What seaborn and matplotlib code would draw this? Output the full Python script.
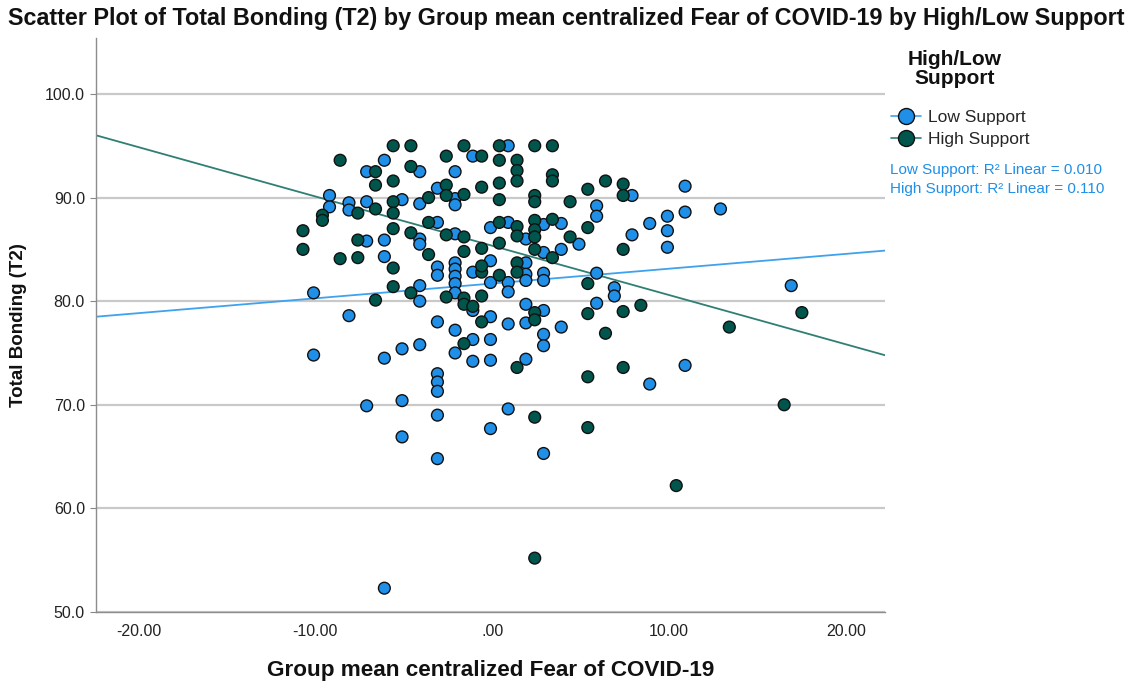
import numpy as np
import pandas as pd
import matplotlib
matplotlib.use("Agg")
import matplotlib.pyplot as plt
from matplotlib.lines import Line2D
from matplotlib.ticker import FuncFormatter
import seaborn as sns

# ---------------- data ----------------
low_x = [-6.1, -7.1, -4.1, -1.1, -2.1, -3.1, -2.1, -2.1, -9.2, -9.2,
         -8.1, -8.1, -7.1, -5.1, -4.1, -3.1, -4.1, -4.1, -2.1, -7.1,
         -6.1, -6.1, -3.1, -3.1, -2.1, -2.1, -2.1, -2.1, -1.1, -4.1,
         0.9, 7.9, 5.9, 5.9, 8.9, 9.9, 9.9, 9.9, 7.9, -0.1,
         0.9, 1.9, 2.9, 3.9, 4.9, 2.9, 3.9, -0.1, 1.9, 1.9,
         2.9, 2.9, -0.1, 0.9, 1.9, 5.9, 6.9, -10.1, -4.1, -2.1,
         -1.1, -8.1, -3.1, -2.1, -1.1, -2.1, -1.1, -4.1, -5.1, -6.1,
         -10.1, -3.1, -3.1, -3.1, -5.1, -7.1, -3.1, -5.1, 6.9, 0.9,
         1.9, 2.9, 5.9, -0.1, 0.9, 1.9, 3.9, 2.9, 2.9, -0.1,
         -0.1, 1.9, 8.9, 0.9, -0.1, 10.9, 10.9, 12.9, 16.9, 10.9,
         -3.1, 2.9, -6.1]
low_y = [93.6, 92.5, 92.5, 94.0, 92.5, 90.9, 89.9, 89.3, 90.2, 89.1,
         89.5, 88.8, 89.6, 89.8, 89.4, 87.6, 86.0, 85.5, 86.5, 85.8,
         85.9, 84.3, 83.3, 82.5, 83.7, 83.1, 82.4, 81.7, 82.8, 81.5,
         95.0, 90.2, 89.2, 88.2, 87.5, 88.2, 86.8, 85.2, 86.4, 87.1,
         87.6, 86.0, 87.4, 87.5, 85.5, 84.7, 85.0, 83.9, 83.7, 82.6,
         82.7, 82.0, 81.8, 81.8, 82.0, 82.7, 81.3, 80.8, 80.0, 80.8,
         79.1, 78.6, 78.0, 77.2, 76.3, 75.0, 74.2, 75.8, 75.4, 74.5,
         74.8, 73.0, 72.2, 71.3, 70.4, 69.9, 69.0, 66.9, 80.5, 80.9,
         79.7, 79.1, 79.8, 78.5, 77.8, 77.9, 77.5, 76.8, 75.7, 76.3,
         74.3, 74.4, 72.0, 69.6, 67.7, 91.1, 88.6, 88.9, 81.5, 73.8,
         64.8, 65.3, 52.3]

high_x = [-5.6, -4.6, -1.6, -8.6, -6.6, -4.6, -2.6, -5.6, -6.6, -2.6,
          -2.6, -1.6, -0.6, -7.6, -6.6, -5.6, -5.6, -3.6, -9.6, -9.6,
          -10.7, -10.7, -5.6, -3.6, -4.6, -2.6, -1.6, -7.6, -8.6, -7.6,
          -5.6, -3.6, -1.6, -0.6, -0.6, -5.6, 0.4, 2.4, 3.4, -0.6,
          0.4, 1.4, 1.4, 1.4, 3.4, 3.4, 0.4, 0.4, 2.4, 2.4,
          4.4, 5.4, 6.4, 7.4, 7.4, 7.4, 5.4, 0.4, 1.4, 1.4,
          2.4, 2.4, 2.4, 3.4, 4.4, 0.4, 2.4, 3.4, -0.6, 1.4,
          1.4, 0.4, 5.4, -4.6, -6.6, -2.6, -1.6, -1.6, -1.1, -1.6,
          -0.6, -0.6, 2.4, 2.4, 5.4, 7.4, 8.4, 6.4, 1.4, 5.4,
          7.4, 2.4, 5.4, 17.5, 13.4, 16.5, 10.4, 2.4]
high_y = [95.0, 95.0, 95.0, 93.6, 92.5, 93.0, 94.0, 91.6, 91.2, 91.2,
          90.2, 90.3, 91.0, 88.5, 88.9, 89.6, 88.5, 90.0, 88.3, 87.8,
          86.8, 85.0, 87.0, 87.6, 86.6, 86.4, 86.2, 85.9, 84.1, 84.2,
          83.2, 84.5, 84.8, 82.8, 85.1, 81.4, 95.0, 95.0, 95.0, 94.0,
          93.6, 93.6, 92.6, 91.6, 92.2, 91.6, 91.4, 89.8, 90.2, 89.6,
          89.6, 90.8, 91.6, 91.3, 90.2, 85.0, 87.1, 87.6, 87.2, 86.3,
          87.8, 86.9, 86.2, 87.9, 86.2, 85.6, 85.0, 84.2, 83.4, 83.7,
          82.8, 82.5, 81.7, 80.8, 80.1, 80.4, 80.3, 79.7, 79.5, 75.9,
          78.0, 80.5, 78.9, 78.2, 78.8, 79.0, 79.6, 76.9, 73.6, 72.7,
          73.6, 68.8, 67.8, 78.9, 77.5, 70.0, 62.2, 55.2]

groups = ["Low Support", "High Support"]
r2_values = ["0.010", "0.110"]
x_ticks = [-20, -10, 0, 10, 20]
y_ticks = [50, 60, 70, 80, 90, 100]

title = "Scatter Plot of Total Bonding (T2) by Group mean centralized Fear of COVID-19 by High/Low Support"
x_label = "Group mean centralized Fear of COVID-19"
y_label = "Total Bonding (T2)"
legend_title = "High/Low\nSupport"

# ---------------- styling ----------------
sns.set_theme(style="white")
plt.rcParams["font.family"] = ["Liberation Sans", "DejaVu Sans"]

marker_colors = {"Low Support": "#1f8fe8", "High Support": "#00564c"}
line_colors = {"Low Support": "#3fa2ee", "High Support": "#2f7f74"}

df = pd.DataFrame({
    "x": low_x + high_x,
    "y": low_y + high_y,
    "group": [groups[0]] * len(low_x) + [groups[1]] * len(high_x),
})

fig = plt.figure(figsize=(11.33, 6.83), dpi=100)
ax = fig.add_axes([96 / 1133, 1 - 612 / 683, (885 - 96) / 1133, (612 - 38) / 683])

ax.set_xlim(-22.4, 22.2)
ax.set_ylim(50, 105.4)

ax.set_yticks(y_ticks)
ax.set_xticks(x_ticks)
ax.yaxis.grid(True, color="#c9c9c9", linewidth=1.6)
ax.xaxis.grid(False)
ax.set_axisbelow(True)

# regression lines (fit through the library, extended to the axis)
for g in groups:
    sub = df[df["group"] == g]
    sns.regplot(data=sub, x="x", y="y", scatter=False, ci=None, truncate=False,
                color=line_colors[g], line_kws={"linewidth": 1.3, "zorder": 2}, ax=ax)

sns.scatterplot(data=df, x="x", y="y", hue="group", hue_order=groups,
                palette=marker_colors, s=72, edgecolor="#111111", linewidth=1.0,
                legend=False, zorder=3, ax=ax)

ax.set_xlim(-22.4, 22.2)
ax.set_ylim(50, 105.4)

def fx(v, pos):
    s = f"{v:.2f}"
    if s in ("0.00", "-0.00"):
        return ".00"
    return s

ax.xaxis.set_major_formatter(FuncFormatter(fx))
ax.yaxis.set_major_formatter(FuncFormatter(lambda v, p: f"{v:.1f}"))
ax.tick_params(axis="y", which="major", length=4, width=0.8, color="#888888",
               labelsize=11.5, pad=4, left=True, labelcolor="#222222")
ax.tick_params(axis="x", which="major", length=0, labelsize=11.5, pad=9,
               labelcolor="#222222")

for side in ["top", "right"]:
    ax.spines[side].set_visible(False)
for side in ["left", "bottom"]:
    ax.spines[side].set_color("#8c8c8c")
    ax.spines[side].set_linewidth(1.0)

ax.set_xlabel(x_label, fontsize=16.2, fontweight="bold", labelpad=15,
              color="#111111")
ax.set_ylabel(y_label, fontsize=13.5, fontweight="bold", labelpad=13,
              color="#111111")

fig.text(0.5, 1 - 18 / 683, title, ha="center", va="center",
         fontsize=16.8, fontweight="bold", color="#111111")

# legend title
fig.text(955 / 1133, 1 - 69 / 683, legend_title, ha="center", va="center",
         fontsize=15, fontweight="bold", linespacing=1.0, color="#111111")

# legend entries
handles = [Line2D([0], [0], color=line_colors[g], linewidth=1.2, marker="o",
                  markersize=11.5, markerfacecolor=marker_colors[g],
                  markeredgecolor="#111111", markeredgewidth=1.0)
           for g in groups]
leg = fig.legend(handles, groups, loc="upper left",
                 bbox_to_anchor=(879 / 1133, 1 - 98 / 683),
                 frameon=False, fontsize=12.5,
                 handlelength=1.7, handletextpad=0.4, labelspacing=0.4,
                 borderpad=0.2)

for i, g in enumerate(groups):
    fig.text(890 / 1133, 1 - (170 + 19 * i) / 683,
             f"{g}: R\u00b2 Linear = {r2_values[i]}",
             ha="left", va="center", fontsize=11, color="#1f8fe8")

fig.savefig("out.png", dpi=100)
